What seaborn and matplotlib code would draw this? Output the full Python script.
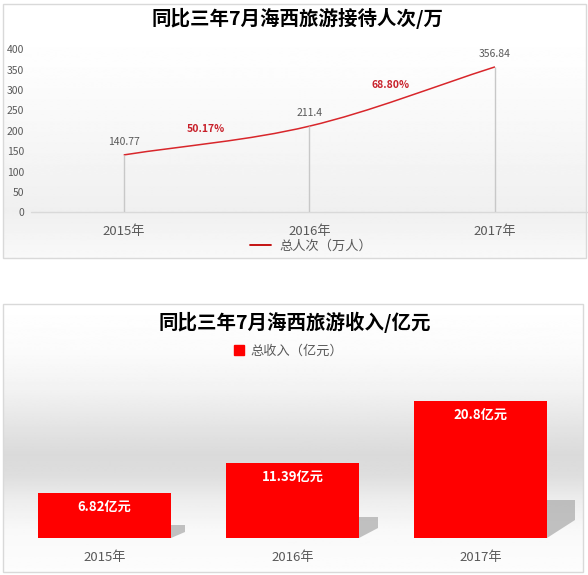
import numpy as np
import matplotlib
matplotlib.use('Agg')
import matplotlib.pyplot as plt
import seaborn as sns
from matplotlib.path import Path
from matplotlib.patches import PathPatch, Rectangle, Patch, Polygon
from matplotlib.lines import Line2D

# data
years = ['2015年', '2016年', '2017年']
visitors = [140.77, 211.4, 356.84]          # 总人次（万人）
visitor_labels = ['140.77', '211.4', '356.84']
growth = ['50.17%', '68.80%']
income = [6.82, 11.39, 20.8]                # 总收入（亿元）
income_labels = ['6.82亿元', '11.39亿元', '20.8亿元']

sns.set_style('white')
plt.rcParams['font.family'] = ['Noto Sans CJK SC', 'DejaVu Sans']

W, H = 588, 575
fig = plt.figure(figsize=(W / 100, H / 100), dpi=100)


def box(x0, y0, x1, y1):
    # pixel box (top-left origin) -> figure rect
    return [x0 / W, 1 - y1 / H, (x1 - x0) / W, (y1 - y0) / H]


def gradient_bg(x0, y0, x1, y1, stops_y, stops_v):
    bg = fig.add_axes(box(x0, y0, x1, y1), zorder=0)
    rows = np.arange(y0, y1 + 1)
    g = np.interp(rows, stops_y, stops_v)
    bg.imshow(g[:, None], cmap='gray', vmin=0, vmax=1, aspect='auto',
              extent=[0, 1, 0, 1], interpolation='bilinear')
    bg.axis('off')
    fig.add_artist(Rectangle((x0 / W, 1 - y1 / H), (x1 - x0) / W, (y1 - y0) / H,
                             transform=fig.transFigure, fill=False,
                             edgecolor='#d9d9d9', lw=1, zorder=5))


# ---------------- top panel: visitors ----------------
gradient_bg(2.5, 4.5, 586, 258.5, [4, 60, 212, 258], [1.0, 0.995, 0.94, 0.975])

ax1 = fig.add_axes(box(30.9, 49.3, 587.8, 212.3), zorder=2)
ax1.set_facecolor('none')
ax1.set_xlim(-0.5, 2.5)
ax1.set_ylim(0, 400)
ax1.set_yticks(range(0, 401, 50))
ax1.set_xticks(range(len(years)))
ax1.set_xticklabels(years)
ax1.tick_params(axis='y', length=0, pad=5, labelsize=7.5, labelcolor='#595959')
ax1.tick_params(axis='x', length=0, pad=9, labelsize=9.5, labelcolor='#595959')
sns.despine(ax=ax1, left=True, bottom=True)
ax1.axhline(0, color='#d9d9d9', lw=1, clip_on=False)

xs = np.arange(len(visitors))
ax1.vlines(xs, 0, visitors, color='#c8c8c8', lw=1)

# smooth line (Bezier through the data points, Excel-like)
P = np.column_stack([xs, visitors])
verts = [P[0]]
codes = [Path.MOVETO]
for i in range(len(P) - 1):
    prev = P[i - 1] if i > 0 else None
    nxt = P[i + 2] if i + 2 < len(P) else None
    c1 = P[i] + ((P[i + 1] - prev) / 6 if prev is not None else (P[i + 1] - P[i]) / 3)
    c2 = P[i + 1] - ((nxt - P[i]) / 6 if nxt is not None else (P[i + 1] - P[i]) / 3)
    verts += [c1, c2, P[i + 1]]
    codes += [Path.CURVE4] * 3
ax1.add_patch(PathPatch(Path(verts, codes), fill=False, edgecolor='#d8262b', lw=1.1))

for x, v, lab in zip(xs, visitors, visitor_labels):
    ax1.annotate(lab, (x, v), xytext=(0, 9.5), textcoords='offset points',
                 ha='center', va='center', fontsize=7.5, color='#595959')

for i, g in enumerate(growth):
    mid = (visitors[i] + visitors[i + 1]) / 2
    ax1.annotate(g, (i + 0.44, mid), xytext=(0, 8.5), textcoords='offset points',
                 ha='center', va='center', fontsize=7.5, fontweight='bold',
                 color='#c8202a')

fig.text(298 / W, 1 - 18 / H, '同比三年7月海西旅游接待人次/万', ha='center', va='center',
         fontsize=14, fontweight='bold', color='black')
fig.legend(handles=[Line2D([], [], color='#c00000', lw=1.3, label='总人次（万人）')],
           loc='center', bbox_to_anchor=(311 / W, 1 - 246 / H), frameon=False,
           fontsize=9.5, handlelength=1.6, handletextpad=0.6, labelcolor='#595959')

# ---------------- bottom panel: income ----------------
gradient_bg(3, 304, 583, 572,
            [304, 350, 390, 430, 455, 475, 500, 530, 572],
            [1.0, 0.985, 0.95, 0.89, 0.855, 0.87, 0.93, 0.975, 0.99])

ax2 = fig.add_axes(box(10.5, 373.3, 575, 538), zorder=2)
ax2.set_facecolor('none')

# bar shadows
for i, v in enumerate(income):
    r = i + 0.3535
    dx = 0.0375 + 0.00536 * v
    ax2.add_patch(Polygon([(r, 0), (r, 0.28 * v), (r + dx, 0.28 * v),
                           (r + dx, 0.13 * v)], closed=True,
                          facecolor='#a9a9a9', edgecolor='none', alpha=0.7, zorder=1))

sns.barplot(x=years, y=income, color='#ff0000', saturation=1, width=0.707,
            linewidth=0, ax=ax2, zorder=2)
ax2.set_xlim(-0.5, 2.5)
ax2.set_ylim(0, 25)
ax2.set_yticks([])
ax2.set_xlabel('')
ax2.set_ylabel('')
ax2.tick_params(axis='x', length=0, pad=9, labelsize=9.5, labelcolor='#595959')
sns.despine(ax=ax2, left=True, bottom=True)

for i, (v, lab) in enumerate(zip(income, income_labels)):
    ax2.annotate(lab, (i, v), xytext=(0, -10), textcoords='offset points',
                 ha='center', va='center', fontsize=9.5, fontweight='bold',
                 color='white')

fig.text(295 / W, 1 - 322 / H, '同比三年7月海西旅游收入/亿元', ha='center', va='center',
         fontsize=14, fontweight='bold', color='black')
fig.legend(handles=[Patch(color='#ff0000', label='总收入（亿元）')],
           loc='center', bbox_to_anchor=(289 / W, 1 - 351 / H), frameon=False,
           fontsize=9.5, handlelength=0.75, handleheight=0.75, handletextpad=0.5,
           labelcolor='#595959')

fig.savefig('out.png', dpi=100)
